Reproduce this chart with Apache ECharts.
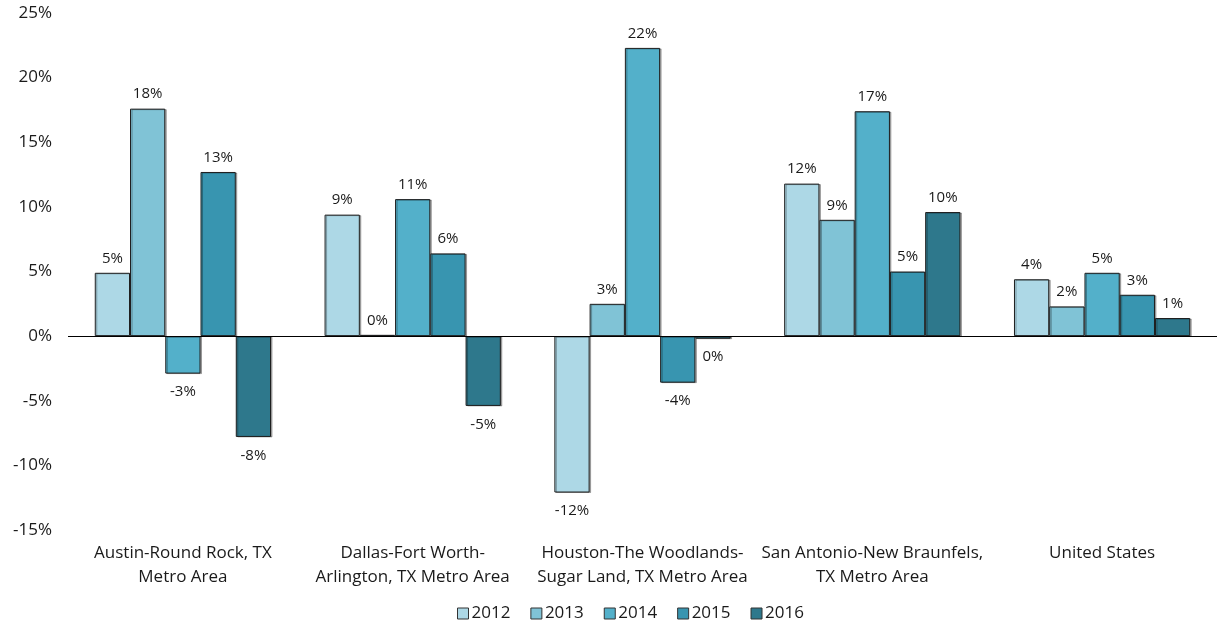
<!DOCTYPE html>
<html>
<head>
<meta charset="utf-8">
<script src="https://cdn.jsdelivr.net/npm/echarts@6/dist/echarts.min.js"></script>
<style>
html,body{margin:0;padding:0;background:#fff;}
#chart{width:1217px;height:623px;}
</style>
</head>
<body>
<div id="chart"></div>
<script>
const categories = [
  "Austin-Round Rock, TX\nMetro Area",
  "Dallas-Fort Worth-\nArlington, TX Metro Area",
  "Houston-The Woodlands-\nSugar Land, TX Metro Area",
  "San Antonio-New Braunfels,\nTX Metro Area",
  "United States"
];
const years = ["2012", "2013", "2014", "2015", "2016"];
const v2012 = [4.9, 9.4, -12.1, 11.8, 4.4];
const v2013 = [17.6, 0.1, 2.5, 9.0, 2.3];
const v2014 = [-2.9, 10.6, 22.3, 17.4, 4.9];
const v2015 = [12.7, 6.4, -3.6, 5.0, 3.2];
const v2016 = [-7.8, -5.4, -0.2, 9.6, 1.4];
const yTicks = [-15, -10, -5, 0, 5, 10, 15, 20, 25];

const colors = ["#add8e6", "#80c3d6", "#53b0ca", "#3895b0", "#2e788c"];
const FONT = "Open Sans";
const seriesValues = [v2012, v2013, v2014, v2015, v2016];

function fmt(v){ let r = Math.round(v); if (Object.is(r, -0)) r = 0; return r + "%"; }

const series = years.map((y, i) => ({
  name: y,
  type: "bar",
  barGap: 0,
  barCategoryGap: "23.3%",
  itemStyle: {
    color: colors[i],
    borderColor: "#1e1e1e",
    borderWidth: 1,
    shadowColor: "rgba(0,0,0,0.3)",
    shadowOffsetX: 1.5,
    shadowOffsetY: 0.5,
    shadowBlur: 0
  },
  data: seriesValues[i].map(v => ({
    value: v,
    label: { position: v < 0 ? "bottom" : "top", distance: v < 0 ? 11 : 7 }
  })),
  label: {
    show: true,
    fontFamily: FONT,
    fontSize: 15,
    color: "#1a1a1a",
    formatter: p => fmt(p.value)
  },
  markLine: i === 0 ? {
    silent: true,
    symbol: "none",
    label: { show: false },
    lineStyle: { color: "#000", width: 1.2, type: "solid" },
    data: [{ yAxis: 0 }]
  } : undefined
}));

const chart = echarts.init(document.getElementById("chart"));
chart.setOption({
  animation: false,
  textStyle: { fontFamily: FONT },
  grid: { left: 68, right: -11, top: 13, bottom: 93, containLabel: false },
  legend: {
    data: years,
    top: 600,
    left: 452,
    itemWidth: 11,
    itemHeight: 11,
    itemGap: 20,
    icon: "rect",
    itemStyle: { borderColor: "#333", borderWidth: 1, shadowBlur: 0, shadowOffsetX: 0, shadowOffsetY: 0, shadowColor: "transparent" },
    textStyle: { fontFamily: FONT, fontSize: 17, color: "#1a1a1a", padding: [0, 0, 0, -2] }
  },
  xAxis: {
    type: "category",
    data: categories,
    position: "bottom",
    axisLine: { show: false, onZero: false },
    axisTick: { show: false },
    axisLabel: {
      fontFamily: FONT,
      fontSize: 17,
      color: "#1a1a1a",
      margin: 11,
      lineHeight: 24,
      interval: 0
    }
  },
  yAxis: {
    type: "value",
    min: yTicks[0],
    max: yTicks[yTicks.length - 1],
    interval: 5,
    axisLine: { show: false },
    axisTick: { show: false },
    splitLine: { show: false },
    axisLabel: {
      fontFamily: FONT,
      fontSize: 17,
      color: "#1a1a1a",
      margin: 16,
      formatter: v => v + "%"
    }
  },
  series: series
});
</script>
</body>
</html>
